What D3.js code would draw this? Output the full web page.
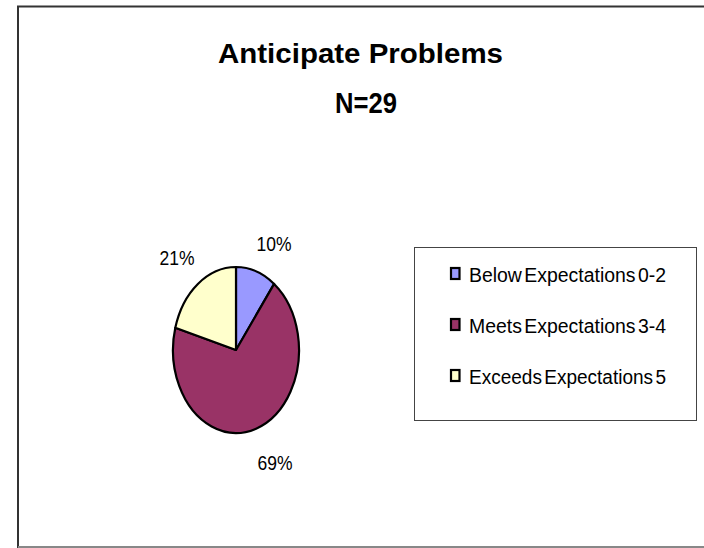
<!DOCTYPE html>
<html>
<head>
<meta charset="utf-8">
<script src="https://cdn.jsdelivr.net/npm/d3@7"></script>
<style>
  html, body { margin: 0; padding: 0; background: #fff; }
  svg { display: block; }
  text { font-family: "Liberation Sans", Arial, sans-serif; fill: #000; }
</style>
</head>
<body>
<svg id="chart" width="704" height="548"></svg>
<script>
// Survey responses for "Anticipate Problems"
const categories = ["Below Expectations 0-2", "Meets Expectations 3-4", "Exceeds Expectations 5"];
const counts = [3, 20, 6];
const colors = ["#9999FF", "#993366", "#FFFFCC"];
const titleLines = ["Anticipate Problems", "N=29"];

const svg = d3.select("#chart");
const total = d3.sum(counts);

// Outer chart frame (left, top and bottom edges)
svg.append("path")
  .attr("d", "M18,548 L18,6.5 L704,6.5")
  .attr("fill", "none").attr("stroke", "#333").attr("stroke-width", 2);
svg.append("line")
  .attr("x1", 18).attr("x2", 704).attr("y1", 547).attr("y2", 547)
  .attr("stroke", "#888").attr("stroke-width", 2);

// Title
svg.append("text")
  .attr("x", 360.5).attr("y", 63)
  .attr("text-anchor", "middle")
  .attr("font-size", 28).attr("font-weight", "bold")
  .attr("textLength", 285).attr("lengthAdjust", "spacingAndGlyphs")
  .text(titleLines[0]);
svg.append("text")
  .attr("x", 366).attr("y", 113)
  .attr("text-anchor", "middle")
  .attr("font-size", 29).attr("font-weight", "bold")
  .attr("textLength", 62).attr("lengthAdjust", "spacingAndGlyphs")
  .text(titleLines[1]);

// Pie, drawn as an upright ellipse
const cx = 236, cy = 350, rx = 63, ry = 83;
const pie = d3.pie().sort(null).value(d => d);
const arcs = pie(counts);
const arc = d3.arc().innerRadius(0).outerRadius(ry);

svg.append("g")
  .attr("transform", `translate(${cx},${cy}) scale(${rx / ry},1)`)
  .selectAll("path")
  .data(arcs)
  .join("path")
  .attr("d", arc)
  .attr("fill", (d, i) => colors[i])
  .attr("stroke", "#000")
  .attr("stroke-width", 2.2)
  .attr("stroke-linejoin", "round")
  .attr("vector-effect", "non-scaling-stroke");

// Percentage labels outside the pie
const pct = d3.format(".0%");
const labelPos = [[274, 251], [275, 470], [177, 265]];
svg.append("g")
  .selectAll("text")
  .data(arcs)
  .join("text")
  .attr("x", (d, i) => labelPos[i][0])
  .attr("y", (d, i) => labelPos[i][1])
  .attr("text-anchor", "middle")
  .attr("font-size", 21)
  .attr("textLength", 35).attr("lengthAdjust", "spacingAndGlyphs")
  .text(d => pct(d.value / total));

// Legend
const legend = svg.append("g");
legend.append("rect")
  .attr("x", 414.5).attr("y", 247.5)
  .attr("width", 282).attr("height", 173)
  .attr("fill", "#fff").attr("stroke", "#444").attr("stroke-width", 1);

const rowY = d3.scalePoint().domain(categories).range([274, 376]);
const rows = legend.selectAll("g.row")
  .data(categories)
  .join("g")
  .attr("class", "row")
  .attr("transform", d => `translate(0,${rowY(d)})`);
rows.append("rect")
  .attr("x", 451).attr("y", -6)
  .attr("width", 8.5).attr("height", 11)
  .attr("fill", (d, i) => colors[i])
  .attr("stroke", "#000").attr("stroke-width", 2.2);
rows.append("text")
  .attr("x", 469).attr("y", 7.5)
  .attr("font-size", 19.5)
  .attr("word-spacing", "-3")
  .attr("textLength", 197).attr("lengthAdjust", "spacingAndGlyphs")
  .text(d => d);
</script>
</body>
</html>
